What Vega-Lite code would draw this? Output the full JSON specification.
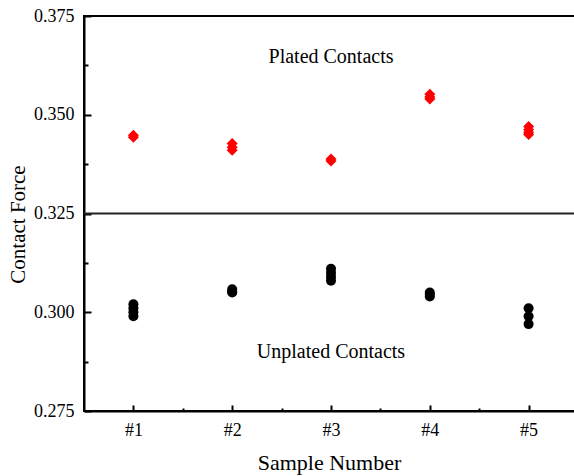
{
  "$schema": "https://vega.github.io/schema/vega-lite/v6.json",
  "width": 494,
  "height": 395,
  "autosize": {"type": "none"},
  "padding": {"left": 84, "top": 16, "right": 0, "bottom": 65},
  "background": "white",
  "config": {
    "font": "Liberation Serif",
    "view": {"stroke": "black", "strokeWidth": 2},
    "axis": {"grid": false, "domainColor": "black", "domainWidth": 2, "tickColor": "black", "tickWidth": 2, "labelColor": "black", "titleColor": "black", "labelFont": "Liberation Serif", "titleFont": "Liberation Serif", "titleFontWeight": "normal", "labelFontSize": 18, "titleFontSize": 21}
  },
  "datasets": {
    "points": [
      {"sample": 1, "force": 0.3448, "type": "Plated"},
      {"sample": 1, "force": 0.3443, "type": "Plated"},
      {"sample": 2, "force": 0.3427, "type": "Plated"},
      {"sample": 2, "force": 0.3418, "type": "Plated"},
      {"sample": 2, "force": 0.3410, "type": "Plated"},
      {"sample": 3, "force": 0.3388, "type": "Plated"},
      {"sample": 3, "force": 0.3383, "type": "Plated"},
      {"sample": 4, "force": 0.3552, "type": "Plated"},
      {"sample": 4, "force": 0.3545, "type": "Plated"},
      {"sample": 4, "force": 0.3540, "type": "Plated"},
      {"sample": 5, "force": 0.3470, "type": "Plated"},
      {"sample": 5, "force": 0.3462, "type": "Plated"},
      {"sample": 5, "force": 0.3455, "type": "Plated"},
      {"sample": 5, "force": 0.3450, "type": "Plated"},
      {"sample": 1, "force": 0.3020, "type": "Unplated"},
      {"sample": 1, "force": 0.3010, "type": "Unplated"},
      {"sample": 1, "force": 0.3000, "type": "Unplated"},
      {"sample": 1, "force": 0.2990, "type": "Unplated"},
      {"sample": 2, "force": 0.3058, "type": "Unplated"},
      {"sample": 2, "force": 0.3052, "type": "Unplated"},
      {"sample": 2, "force": 0.3050, "type": "Unplated"},
      {"sample": 3, "force": 0.3110, "type": "Unplated"},
      {"sample": 3, "force": 0.3100, "type": "Unplated"},
      {"sample": 3, "force": 0.3090, "type": "Unplated"},
      {"sample": 3, "force": 0.3080, "type": "Unplated"},
      {"sample": 4, "force": 0.3050, "type": "Unplated"},
      {"sample": 4, "force": 0.3045, "type": "Unplated"},
      {"sample": 4, "force": 0.3040, "type": "Unplated"},
      {"sample": 5, "force": 0.3010, "type": "Unplated"},
      {"sample": 5, "force": 0.2990, "type": "Unplated"},
      {"sample": 5, "force": 0.2970, "type": "Unplated"}
    ],
    "labels": [
      {"sample": 3, "force": 0.3646, "label": "Plated Contacts"},
      {"sample": 3, "force": 0.2899, "label": "Unplated Contacts"}
    ],
    "divider": [{"force": 0.325}]
  },
  "layer": [
    {
      "data": {"name": "divider"},
      "mark": {"type": "rule", "color": "#222222", "strokeWidth": 2},
      "encoding": {"y": {"field": "force", "type": "quantitative", "scale": {"domain": [0.275, 0.375], "nice": false, "zero": false}}}
    },
    {
      "data": {"name": "points"},
      "mark": {"type": "point", "filled": true, "opacity": 1},
      "encoding": {
        "x": {
          "field": "sample", "type": "quantitative",
          "scale": {"domain": [0.5, 5.5], "nice": false, "zero": false},
          "axis": {
            "title": "Sample Number",
            "values": [1, 1.5, 2, 2.5, 3, 3.5, 4, 4.5, 5],
            "labelExpr": "datum.value % 1 == 0 ? '#' + datum.value : ''",
            "tickSize": {"condition": {"test": "datum.value % 1 == 0", "value": -6}, "value": -3},
            "labelPadding": 16,
            "titleBaseline": "alphabetic",
            "titleY": 58,
            "titleX": 245,
            "titleFontSize": 22
          }
        },
        "y": {
          "field": "force", "type": "quantitative",
          "scale": {"domain": [0.275, 0.375], "nice": false, "zero": false},
          "axis": {
            "title": "Contact Force",
            "values": [0.275, 0.2875, 0.3, 0.3125, 0.325, 0.3375, 0.35, 0.3625, 0.375],
            "labelExpr": "round(datum.value * 10000) % 250 == 0 ? format(datum.value, '.3f') : ''",
            "tickSize": {"condition": {"test": "round(datum.value * 10000) % 250 == 0", "value": -7}, "value": -4},
            "labelPadding": 17,
            "titleBaseline": "alphabetic",
            "titleX": -60,
            "titleY": 208
          }
        },
        "color": {"field": "type", "type": "nominal", "scale": {"domain": ["Plated", "Unplated"], "range": ["#ff0000", "#000000"]}, "legend": null},
        "shape": {"field": "type", "type": "nominal", "scale": {"domain": ["Plated", "Unplated"], "range": ["diamond", "circle"]}, "legend": null},
        "size": {"field": "type", "type": "nominal", "scale": {"domain": ["Plated", "Unplated"], "range": [121, 100]}, "legend": null}
      }
    },
    {
      "data": {"name": "labels"},
      "mark": {"type": "text", "font": "Liberation Serif", "fontSize": 20, "color": "black", "baseline": "middle", "align": "center"},
      "encoding": {
        "x": {"field": "sample", "type": "quantitative"},
        "y": {"field": "force", "type": "quantitative"},
        "text": {"field": "label"}
      }
    }
  ]
}
